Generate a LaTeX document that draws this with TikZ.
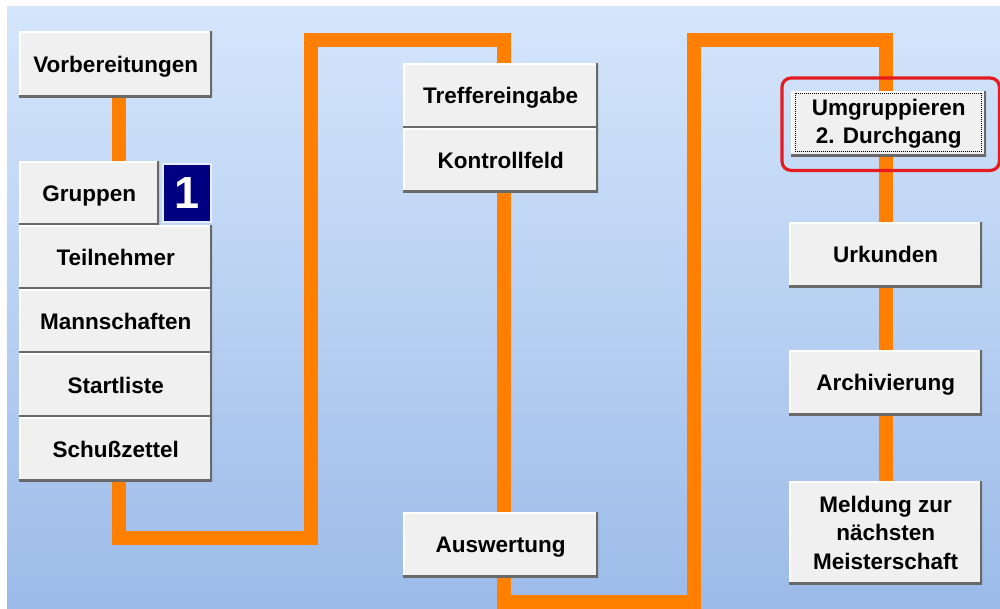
\documentclass[tikz,border=0pt]{standalone}
\usepackage{fontspec}
\setmainfont{Liberation Sans}
\usetikzlibrary{backgrounds}
\definecolor{bgtop}{RGB}{213,230,251}
\definecolor{bgbot}{RGB}{156,187,233}
\definecolor{flowc}{RGB}{255,128,0}
\definecolor{btnface}{RGB}{240,240,240}
\definecolor{btnshadow}{RGB}{105,105,105}
\definecolor{navyc}{RGB}{0,0,128}
\definecolor{focusred}{RGB}{228,28,32}
\newcommand{\btnfont}{\fontsize{22.5}{28.5}\selectfont\bfseries}
\tikzset{
  btn/.style={anchor=north west, inner sep=0pt, fill=btnface, font=\btnfont,
    text=black,
    path picture={
      \draw[white, line width=3pt]
        (path picture bounding box.south west) -- (path picture bounding box.north west)
        -- (path picture bounding box.north east);
      \draw[btnshadow, line width=5pt]
        (path picture bounding box.south west) -- (path picture bounding box.south east)
        -- (path picture bounding box.north east);
    }},
  btnone/.style={btn, text height=16pt, text depth=0pt},
  btnmulti/.style={btn, align=center},
  flow/.style={draw=flowc, line width=14pt, line join=miter, line cap=butt},
  numbox/.style={anchor=north west, inner sep=0pt, fill=navyc, draw=white!92!blue,
    line width=1.5pt, text=white, font=\fontsize{45}{45}\selectfont\bfseries},
}
\begin{document}
\begin{tikzpicture}[x=1pt, y=-1pt]
\useasboundingbox (0,0) rectangle (1000,608);

% left column
\node[btnone, minimum width=193pt, minimum height=66pt] (vorb) at (19,31) {Vorbereitungen};
\node[btnone, minimum width=140pt, minimum height=64pt] (grp) at (19,161) {Gruppen};
\node[numbox, minimum width=48pt, minimum height=58pt] (one) at (162,163) {1};
\node[btnone, minimum width=193pt, minimum height=64pt] (teil) at (19,225) {Teilnehmer};
\node[btnone, minimum width=193pt, minimum height=64pt] (mann) at (19,289) {Mannschaften};
\node[btnone, minimum width=193pt, minimum height=64pt] (start) at (19,353) {Startliste};
\node[btnone, minimum width=193pt, minimum height=64pt] (schuss) at (19,417) {Schußzettel};

% middle column
\node[btnone, minimum width=195pt, minimum height=65pt] (treff) at (403,63) {Treffereingabe};
\node[btnone, minimum width=195pt, minimum height=64pt] (kontr) at (403,128) {Kontrollfeld};
\node[btnone, minimum width=195pt, minimum height=65pt] (ausw) at (403,512) {Auswertung};

% right column
\node[btnmulti, minimum width=195pt, minimum height=65pt] (umg) at (791,91) {Umgruppieren\\2. Durchgang};
\node[btnone, minimum width=193pt, minimum height=65pt] (urk) at (789,222) {Urkunden};
\node[btnone, minimum width=193pt, minimum height=65pt] (arch) at (789,350) {Archivierung};
\node[btnmulti, minimum width=193pt, minimum height=103pt] (meld) at (789,481) {Meldung zur\\nächsten\\Meisterschaft};

% focus marks
\draw[black, line width=0.9pt, dash pattern=on 1pt off 1pt]
  ([shift={(4,2)}]umg.north west) rectangle ([shift={(-5,-5)}]umg.south east);
\draw[focusred, line width=3.2pt, rounded corners=9pt]
  ([shift={(-9,-13)}]umg.north west) rectangle ([shift={(13,14)}]umg.south east);

\begin{pgfonlayer}{background}
  \shade[top color=bgtop, bottom color=bgbot] (7,6) rectangle (1000,608);
  \coordinate (c1) at (118.5,537.5);
  \coordinate (c2) at (310.5,537.5);
  \coordinate (c3) at (310.5,39.5);
  \coordinate (c4) at (503.5,39.5);
  \coordinate (c5) at (503.5,601.5);
  \coordinate (c6) at (693.5,601.5);
  \coordinate (c7) at (693.5,39.5);
  \coordinate (c8) at (885.5,39.5);
  \draw[flow] (vorb.south -| c1) -- (c1) -- (c2) -- (c3) -- (c4) -- (c5)
    -- (c6) -- (c7) -- (c8) -- (c8 |- meld.north);
\end{pgfonlayer}
\end{tikzpicture}
\end{document}
